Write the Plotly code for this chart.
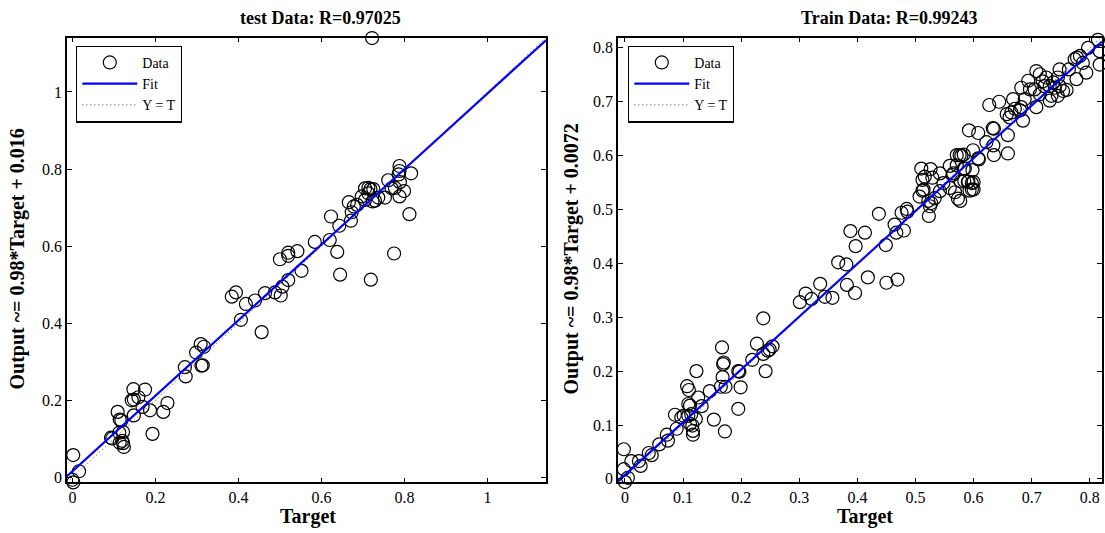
import plotly.graph_objects as go

# ---------------- data ----------------
test_target = [0.002, 0.016, 0.000, 0.002,
               0.093, 0.096, 0.109, 0.114, 0.118, 0.113, 0.122, 0.114, 0.122, 0.124, 0.120,
               0.147, 0.175, 0.143, 0.148, 0.159, 0.169, 0.148, 0.187, 0.219, 0.229, 0.193,
               0.271, 0.273, 0.298, 0.309, 0.317, 0.311, 0.314,
               0.406, 0.456, 0.384, 0.394, 0.418, 0.440, 0.464, 0.488, 0.502, 0.506, 0.520,
               0.500, 0.520, 0.520, 0.542, 0.552, 0.584, 0.620, 0.623, 0.638, 0.643, 0.645,
               0.671, 0.673, 0.666, 0.678, 0.686, 0.697, 0.705, 0.705, 0.713, 0.718, 0.725,
               0.713, 0.723, 0.729, 0.737, 0.753, 0.761, 0.769, 0.777, 0.788, 0.788, 0.786,
               0.789, 0.799, 0.788, 0.816, 0.812, 0.775, 0.719, 0.722]
test_output = [0.058, 0.016, -0.006, -0.013,
               0.103, 0.101, 0.170, 0.150, 0.148, 0.116, 0.118, 0.090, 0.089, 0.079, 0.095,
               0.229, 0.228, 0.200, 0.202, 0.208, 0.183, 0.161, 0.174, 0.170, 0.193, 0.113,
               0.286, 0.262, 0.324, 0.346, 0.339, 0.290, 0.291,
               0.409, 0.377, 0.469, 0.480, 0.450, 0.459, 0.478, 0.480, 0.472, 0.495, 0.512,
               0.566, 0.575, 0.583, 0.587, 0.536, 0.611, 0.616, 0.677, 0.585, 0.653, 0.526,
               0.666, 0.688, 0.714, 0.703, 0.707, 0.729, 0.720, 0.750, 0.751, 0.748, 0.748,
               0.737, 0.716, 0.718, 0.726, 0.726, 0.771, 0.750, 0.751, 0.808, 0.795, 0.786,
               0.766, 0.743, 0.729, 0.789, 0.683, 0.581, 0.513, 1.140]

train_target = [-0.002, -0.002, 0.005, 0.000, 0.011, 0.024, 0.027, 0.041, 0.046, 0.059,
                0.072, 0.074, 0.086, 0.089, 0.097, 0.101, 0.107, 0.110, 0.109, 0.112,
                0.109, 0.114, 0.112, 0.116, 0.117, 0.117, 0.122, 0.126, 0.132, 0.123,
                0.146, 0.153, 0.167, 0.169, 0.170, 0.165, 0.168, 0.173, 0.172, 0.195,
                0.197, 0.199, 0.195, 0.219, 0.227, 0.238, 0.238, 0.242, 0.246, 0.249,
                0.254, 0.301, 0.311, 0.321, 0.336, 0.344, 0.357, 0.367, 0.381, 0.382,
                0.396, 0.388, 0.397, 0.413, 0.418, 0.437, 0.449, 0.450, 0.469, 0.464,
                0.467, 0.476, 0.480, 0.485, 0.486, 0.510, 0.512, 0.516, 0.526, 0.529,
                0.507, 0.512, 0.514, 0.522, 0.525, 0.523, 0.527, 0.533, 0.542, 0.548,
                0.542, 0.559, 0.559, 0.571, 0.579, 0.565, 0.585, 0.598, 0.584, 0.590,
                0.600, 0.593, 0.600, 0.573, 0.577, 0.609, 0.635, 0.599,
                0.814, 0.817, 0.817, 0.797, 0.778, 0.783, 0.774, 0.788, 0.794, 0.777,
                0.764, 0.748, 0.745, 0.737, 0.725, 0.731, 0.740, 0.748, 0.754, 0.760,
                0.722, 0.719, 0.708, 0.714, 0.705, 0.714, 0.694, 0.697, 0.708, 0.682,
                0.688, 0.682, 0.668, 0.671, 0.665, 0.657, 0.662, 0.680, 0.685, 0.731,
                0.734, 0.745, 0.627, 0.644, 0.659, 0.633, 0.635, 0.592, 0.608, 0.622,
                0.634, 0.659, 0.576, 0.583, 0.608, 0.571, 0.583, 0.564, 0.578, 0.591,
                0.597, 0.597, 0.568]
train_output = [0.055, 0.018, 0.002, -0.006, 0.033, 0.033, 0.024, 0.048, 0.044, 0.064,
                0.082, 0.071, 0.119, 0.093, 0.114, 0.117, 0.172, 0.165, 0.139, 0.136,
                0.117, 0.120, 0.102, 0.099, 0.089, 0.082, 0.111, 0.151, 0.135, 0.200,
                0.163, 0.110, 0.244, 0.213, 0.216, 0.171, 0.189, 0.171, 0.088, 0.200,
                0.199, 0.170, 0.130, 0.221, 0.251, 0.298, 0.232, 0.200, 0.238, 0.240,
                0.246, 0.328, 0.344, 0.334, 0.362, 0.338, 0.336, 0.402, 0.398, 0.360,
                0.345, 0.460, 0.432, 0.457, 0.374, 0.492, 0.434, 0.364, 0.370, 0.472,
                0.457, 0.494, 0.461, 0.501, 0.496, 0.576, 0.555, 0.561, 0.575, 0.559,
                0.524, 0.535, 0.537, 0.516, 0.506, 0.488, 0.512, 0.521, 0.567, 0.549,
                0.534, 0.540, 0.581, 0.601, 0.600, 0.567, 0.576, 0.573, 0.553, 0.551,
                0.551, 0.535, 0.537, 0.520, 0.516, 0.593, 0.601, 0.610,
                0.815, 0.794, 0.769, 0.800, 0.782, 0.785, 0.779, 0.772, 0.754, 0.742,
                0.760, 0.760, 0.745, 0.736, 0.745, 0.729, 0.726, 0.729, 0.720, 0.722,
                0.729, 0.738, 0.757, 0.751, 0.723, 0.714, 0.739, 0.723, 0.690, 0.726,
                0.705, 0.690, 0.705, 0.687, 0.680, 0.677, 0.671, 0.684, 0.665, 0.702,
                0.711, 0.711, 0.694, 0.700, 0.638, 0.651, 0.650, 0.647, 0.642, 0.625,
                0.619, 0.604, 0.601, 0.602, 0.595, 0.582, 0.576, 0.564, 0.552, 0.552,
                0.549, 0.537, 0.532]

test_slope, test_offset, test_R = 0.98, 0.016, "0.97025"
train_slope, train_offset, train_R = 0.98, 0.0072, "0.99243"
test_range = [-0.013, 1.141]
train_x_range = [-0.012, 0.821]
train_y_range = [-0.0066, 0.819]
test_ticks = [0, 0.2, 0.4, 0.6, 0.8, 1]
test_ticktext = ["0", "0.2", "0.4", "0.6", "0.8", "1"]
train_ticks = [0, 0.1, 0.2, 0.3, 0.4, 0.5, 0.6, 0.7, 0.8]
train_ticktext = ["0", "0.1", "0.2", "0.3", "0.4", "0.5", "0.6", "0.7", "0.8"]

FONT = "Liberation Serif"
W, H = 1105, 533

fig = go.Figure()


def add_panel(tx, ty, slope, offset, xr, yr, xa, ya, leg):
    fig.add_trace(go.Scatter(x=tx, y=ty, mode="markers", name="Data",
                             marker=dict(symbol="circle-open", size=13, color="black",
                                         line=dict(width=1.2, color="black")),
                             cliponaxis=False, xaxis=xa, yaxis=ya, legend=leg))
    fx = [xr[0], xr[1]]
    fy = [slope * v + offset for v in fx]
    fig.add_trace(go.Scatter(x=fx, y=fy, mode="lines", name="Fit",
                             line=dict(color="#0000FF", width=2.2),
                             xaxis=xa, yaxis=ya, legend=leg))
    lo, hi = max(xr[0], yr[0]), min(xr[1], yr[1])
    fig.add_trace(go.Scatter(x=[lo, hi], y=[lo, hi], mode="lines", name="Y = T",
                             line=dict(color="#444444", width=1, dash="1px,3px"),
                             xaxis=xa, yaxis=ya, legend=leg))


add_panel(test_target, test_output, test_slope, test_offset, test_range, test_range,
          "x", "y", "legend")
add_panel(train_target, train_output, train_slope, train_offset, train_x_range, train_y_range,
          "x2", "y2", "legend2")


def px_x(p):
    return p / W


def px_y(p):
    return 1 - p / H


axis_common = dict(showline=True, linecolor="black", linewidth=1.5, mirror="ticks",
                   ticks="inside", ticklen=5, tickwidth=1, tickcolor="black",
                   showgrid=False, zeroline=False,
                   tickfont=dict(family=FONT, size=16, color="black"))

legend_common = dict(xanchor="left", yanchor="top", bordercolor="black", borderwidth=1.3,
                     bgcolor="white", itemwidth=55, entrywidth=100,
                     font=dict(family=FONT, size=14, color="black"), tracegroupgap=0)

fig.update_layout(
    width=W, height=H, margin=dict(l=0, r=0, t=0, b=0),
    paper_bgcolor="white", plot_bgcolor="white",
    font=dict(family=FONT),
    xaxis=dict(domain=[px_x(67), px_x(546)], range=test_range, tickvals=test_ticks,
               ticktext=test_ticktext, anchor="y", **axis_common),
    yaxis=dict(domain=[px_y(487), px_y(38)], range=test_range, tickvals=test_ticks,
               ticktext=test_ticktext, anchor="x", **axis_common),
    xaxis2=dict(domain=[px_x(618), px_x(1102)], range=train_x_range, tickvals=train_ticks,
                ticktext=train_ticktext, anchor="y2", **axis_common),
    yaxis2=dict(domain=[px_y(487), px_y(38)], range=train_y_range, tickvals=train_ticks,
                ticktext=train_ticktext, anchor="x2", **axis_common),
    legend=dict(x=px_x(76), y=px_y(46), **legend_common),
    legend2=dict(x=px_x(628), y=px_y(46), **legend_common),
    showlegend=True,
)

title_font = dict(family=FONT, size=18, color="black")
label_font = dict(family=FONT, size=20, color="black")
ann = [
    dict(text="<b>test Data: R=%s</b>" % test_R, x=px_x(320), y=px_y(18), font=title_font),
    dict(text="<b>Train Data: R=%s</b>" % train_R, x=px_x(889), y=px_y(18), font=title_font),
    dict(text="<b>Target</b>", x=px_x(308), y=px_y(521), font=label_font),
    dict(text="<b>Target</b>", x=px_x(865), y=px_y(521), font=label_font),
    dict(text="<b>Output ~= %g*Target + %g</b>" % (test_slope, test_offset),
         x=px_x(18), y=px_y(262), textangle=-90, font=label_font),
    dict(text="<b>Output ~= %g*Target + %g</b>" % (train_slope, train_offset),
         x=px_x(572), y=px_y(262), textangle=-90, font=label_font),
]
for a in ann:
    fig.add_annotation(xref="paper", yref="paper", showarrow=False,
                       xanchor="center", yanchor="middle", **a)

fig.write_html("out.html")
